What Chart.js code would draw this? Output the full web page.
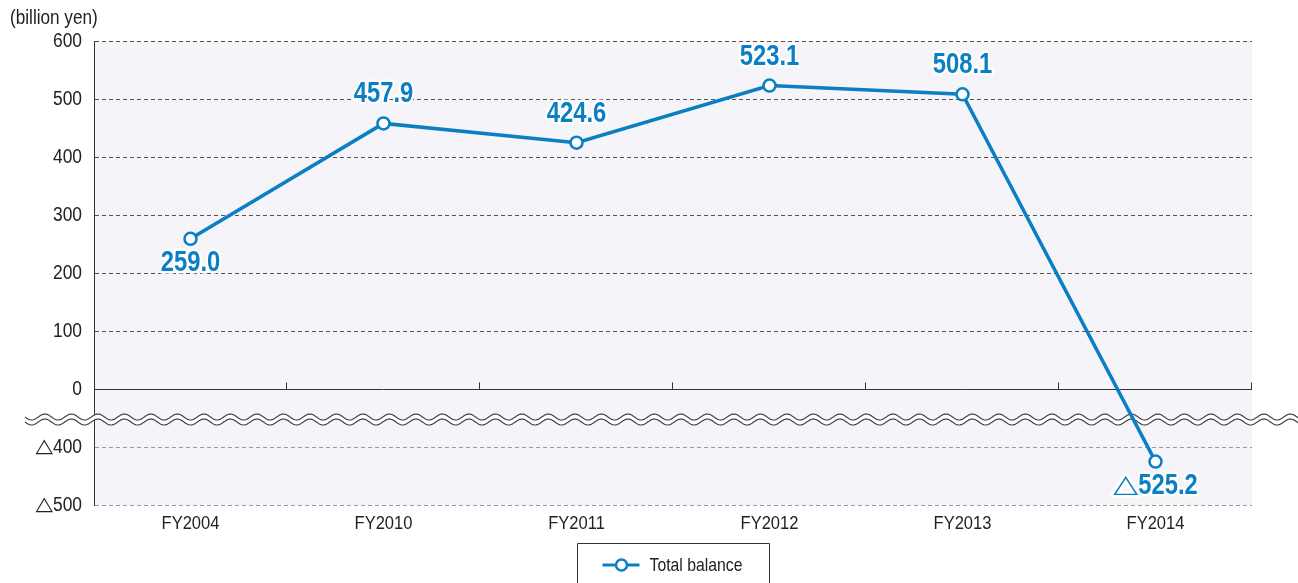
<!DOCTYPE html>
<html>
<head>
<meta charset="utf-8">
<title>Total balance</title>
<script src="https://cdn.jsdelivr.net/npm/chart.js@4/dist/chart.umd.min.js"></script>
<style>
  html, body { margin: 0; padding: 0; background: #ffffff; }
  #wrap { width: 1298px; height: 583px; position: relative; }
</style>
</head>
<body>
<div id="wrap"><canvas id="chart" width="1298" height="583"></canvas></div>
<script>
// ---- data ----
const categories = ['FY2004', 'FY2010', 'FY2011', 'FY2012', 'FY2013', 'FY2014'];
const totalBalance = [259.0, 457.9, 424.6, 523.1, 508.1, -525.2];
const labelSide = ['below', 'above', 'above', 'above', 'above', 'below'];
const yTickLabels = ['600', '500', '400', '300', '200', '100', '0', '△400', '△500'];
const seriesName = 'Total balance';
const unitLabel = '(billion yen)';

// Negative values sit below a broken axis: they are lifted by the hidden span.
const BREAK_SPAN = 400;
const toAxis = v => (v < 0 ? v + BREAK_SPAN : v);
// Negative amounts are written with a leading triangle.
const NEG = '△';
const fmtValue = v => (v < 0 ? NEG : '') + Math.abs(v).toFixed(1);

const BLUE = '#0a7fc4';
const INK = '#222';
const FONT = '"Liberation Sans", Arial, sans-serif';
const TRI_FONT = '"DejaVu Sans", sans-serif';
Chart.defaults.font.family = FONT;
Chart.defaults.color = INK;

// Condensed text: the face is squeezed horizontally; a leading triangle is set
// in a light face at its own size.
function condensedText(ctx, text, x, y, opts) {
  const squeeze = opts.squeeze || 0.88;
  let tri = '', rest = text;
  if (text.startsWith(NEG)) { tri = NEG; rest = text.slice(1); }
  ctx.save();
  ctx.textBaseline = 'middle';
  ctx.textAlign = 'left';
  ctx.font = opts.font;
  const restW = ctx.measureText(rest).width * squeeze;
  let triW = 0;
  if (tri) {
    ctx.font = opts.triFont;
    triW = ctx.measureText(tri).width * opts.triSqueeze;
  }
  const total = triW + restW;
  let left = x;
  if (opts.align === 'center') left = x - total / 2;
  else if (opts.align === 'right') left = x - total;

  const paint = (str, px, sx, font, dy) => {
    ctx.save();
    ctx.font = font;
    ctx.translate(px, y + (dy || 0));
    ctx.scale(sx, 1);
    if (opts.halo) {
      ctx.lineJoin = 'round';
      ctx.strokeStyle = '#ffffff';
      ctx.lineWidth = opts.halo;
      ctx.strokeText(str, 0, 0);
    }
    ctx.fillStyle = opts.color || INK;
    ctx.fillText(str, 0, 0);
    ctx.restore();
  };
  if (tri) paint(tri, left, opts.triSqueeze, opts.triFont, opts.triDy);
  paint(rest, left + triW, squeeze, opts.font);
  ctx.restore();
}

// Plot background, dashed grid, solid zero line with category tick marks, axis break, text.
const decor = {
  id: 'decor',
  beforeDraw(chart) {
    const { ctx, chartArea: a } = chart;
    ctx.save();
    ctx.fillStyle = '#ffffff';
    ctx.fillRect(0, 0, chart.width, chart.height);
    ctx.fillStyle = '#f4f4f9';
    ctx.fillRect(a.left, a.top, a.right - a.left, a.bottom - a.top);
    ctx.restore();
  },
  beforeDatasetsDraw(chart) {
    const { ctx, chartArea: a, scales: { x, y } } = chart;
    ctx.save();
    // grid lines
    y.ticks.forEach(t => {
      if (t.value === 0) return;
      const py = Math.round(y.getPixelForValue(t.value)) + 0.5;
      ctx.beginPath();
      ctx.setLineDash([4, 3]);
      ctx.lineWidth = 1;
      ctx.strokeStyle = t.value < 0 ? '#9a9a9a' : '#555';
      ctx.moveTo(a.left + 1, py);
      ctx.lineTo(a.right, py);
      ctx.stroke();
    });
    // zero line and category dividers
    const y0 = Math.round(y.getPixelForValue(0)) + 0.5;
    ctx.setLineDash([]);
    ctx.strokeStyle = '#333';
    ctx.lineWidth = 1;
    ctx.beginPath();
    ctx.moveTo(a.left, y0);
    ctx.lineTo(a.right, y0);
    const half = (x.getPixelForValue(1) - x.getPixelForValue(0)) / 2;
    for (let i = 0; i < categories.length; i++) {
      const px = Math.round(x.getPixelForValue(i) + half) - 0.5;
      ctx.moveTo(px, y0);
      ctx.lineTo(px, y0 - 7);
    }
    ctx.stroke();

    // wavy axis break
    const yb = y0 + 30;
    const x0 = 25, x1 = chart.width + 2;
    const period = 26.5, amp = 3, gap = 5;
    const wave = (off, dir) => {
      const pts = [];
      for (let px = x0; px <= x1; px += 1) {
        pts.push([px, yb + off + amp * Math.sin((px - x0) / period * Math.PI * 2)]);
      }
      return dir < 0 ? pts.reverse() : pts;
    };
    const top = wave(-gap / 2, 1), bot = wave(gap / 2, -1);
    ctx.beginPath();
    top.forEach((p, i) => (i ? ctx.lineTo(p[0], p[1]) : ctx.moveTo(p[0], p[1])));
    bot.forEach(p => ctx.lineTo(p[0], p[1]));
    ctx.closePath();
    ctx.fillStyle = '#ffffff';
    ctx.fill();
    ctx.strokeStyle = '#444';
    ctx.lineWidth = 1.2;
    [top, bot].forEach(line => {
      ctx.beginPath();
      line.forEach((p, i) => (i ? ctx.lineTo(p[0], p[1]) : ctx.moveTo(p[0], p[1])));
      ctx.stroke();
    });
    ctx.restore();
  },
  afterDatasetsDraw(chart) {
    const { ctx } = chart;
    const meta = chart.getDatasetMeta(0);
    meta.data.forEach((pt, i) => {
      const ly = labelSide[i] === 'above' ? pt.y - 29 : pt.y + 24;
      condensedText(ctx, fmtValue(totalBalance[i]), pt.x, ly, {
        font: 'bold 29px ' + FONT, align: 'center', squeeze: 0.82, color: BLUE, halo: 5,
        triFont: '25px ' + TRI_FONT, triSqueeze: 1.3, triDy: 0
      });
    });
  },
  afterDraw(chart) {
    const { ctx, chartArea: a, scales: { x, y } } = chart;
    const ds = chart.data.datasets[0];

    // axis labels
    y.ticks.forEach((t, i) => {
      condensedText(ctx, t.label, a.left - 12, y.getPixelForTick(i), {
        font: '20px ' + FONT, align: 'right', squeeze: 0.87,
        triFont: '19px ' + TRI_FONT, triSqueeze: 1.2, triDy: 0
      });
    });
    x.ticks.forEach((t, i) => {
      condensedText(ctx, t.label, x.getPixelForTick(i), a.bottom + 19, {
        font: '19px ' + FONT, align: 'center', squeeze: 0.87
      });
    });
    condensedText(ctx, unitLabel, 10, 19, { font: '19.5px ' + FONT, squeeze: 0.88 });

    // legend box
    ctx.save();
    const cx = (a.left + a.right) / 2;
    const bw = 192, bx = Math.round(cx - bw / 2) + 0.5, by = 543.5;
    ctx.strokeStyle = '#333';
    ctx.lineWidth = 1;
    ctx.beginPath();
    ctx.moveTo(bx, chart.height + 2);
    ctx.lineTo(bx, by);
    ctx.lineTo(bx + bw, by);
    ctx.lineTo(bx + bw, chart.height + 2);
    ctx.stroke();
    const ly = 565;
    ctx.strokeStyle = ds.borderColor;
    ctx.lineWidth = 3;
    ctx.beginPath();
    ctx.moveTo(bx + 25, ly);
    ctx.lineTo(bx + 62, ly);
    ctx.stroke();
    ctx.beginPath();
    ctx.arc(bx + 44, ly, 5.5, 0, Math.PI * 2);
    ctx.fillStyle = '#ffffff';
    ctx.fill();
    ctx.lineWidth = 2.5;
    ctx.stroke();
    ctx.restore();
    condensedText(ctx, ds.label, bx + 72, ly + 1, { font: '19px ' + FONT, squeeze: 0.83 });
  }
};

new Chart(document.getElementById('chart'), {
  type: 'line',
  data: {
    labels: categories,
    datasets: [{
      label: seriesName,
      data: totalBalance.map(toAxis),
      borderColor: BLUE,
      borderWidth: 3.5,
      pointRadius: 6,
      pointBorderWidth: 2.5,
      pointBackgroundColor: '#ffffff',
      pointBorderColor: BLUE,
      tension: 0,
      clip: false
    }]
  },
  options: {
    responsive: false,
    devicePixelRatio: 1,
    animation: false,
    layout: { padding: { top: 41, right: 46, left: 0, bottom: 0 } },
    plugins: { legend: { display: false }, tooltip: { enabled: false }, title: { display: false } },
    scales: {
      x: {
        type: 'category',
        offset: true,
        grid: { display: false, drawTicks: false },
        border: { display: false },
        ticks: { display: false, maxRotation: 0, autoSkip: false },
        afterFit: s => { s.height = 78; }
      },
      y: {
        type: 'linear',
        min: -200,
        max: 600,
        grid: { display: false, drawTicks: false },
        border: { display: true, color: '#333', width: 1 },
        ticks: {
          display: false,
          stepSize: 100,
          callback: (value, index, ticks) => yTickLabels[ticks.length - 1 - index]
        },
        afterFit: s => { s.width = 94; }
      }
    }
  },
  plugins: [decor]
});
</script>
</body>
</html>
